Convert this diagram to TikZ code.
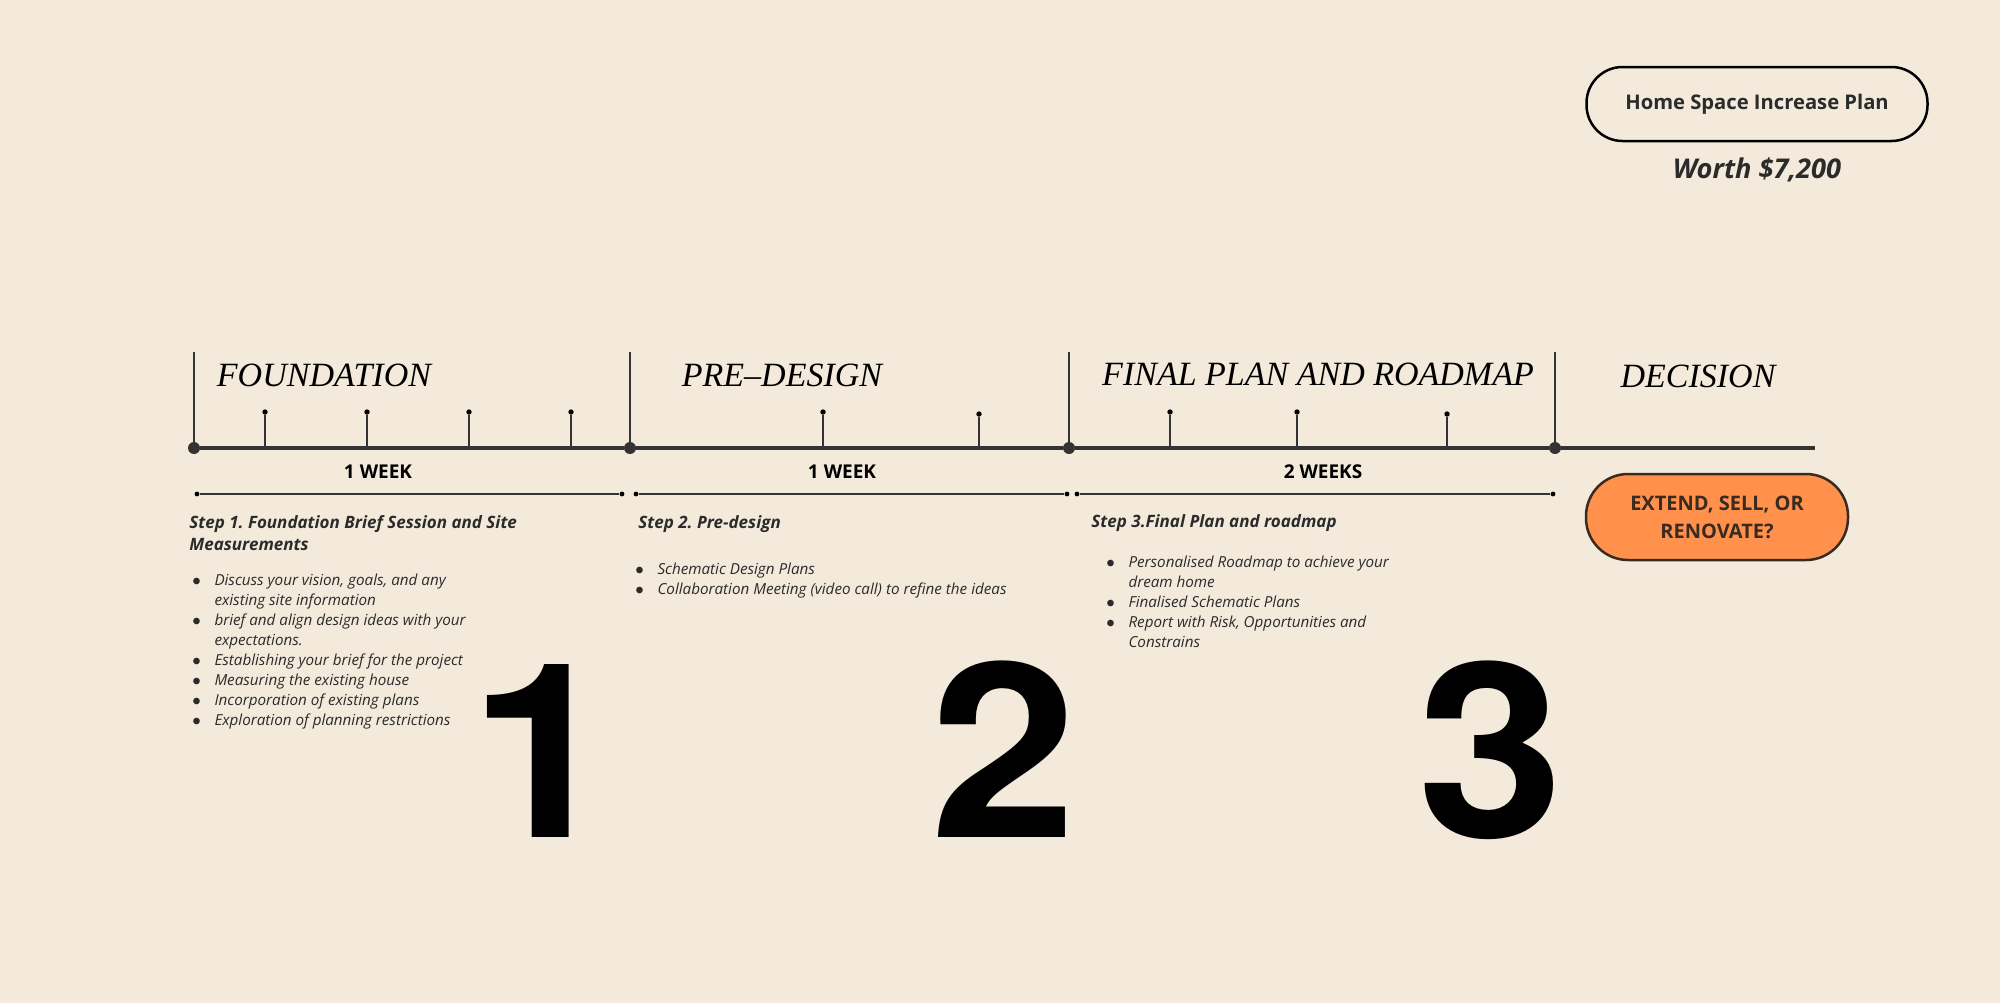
\documentclass[tikz,border=0pt]{standalone}
\usepackage{fontspec}
\usepackage{graphicx}
\setmainfont{Open Sans}
\newfontfamily\headfont{Liberation Serif}
\newfontfamily\numfont{TeX Gyre Heros}
\usetikzlibrary{positioning}
\definecolor{paper}{HTML}{F3EADC}
\definecolor{ink}{HTML}{333333}
\definecolor{textdark}{HTML}{2B2B2B}
\definecolor{pumpkin}{HTML}{FF914D}
\definecolor{pumpkintext}{HTML}{3A2A20}
\frenchspacing

\begin{document}
\begin{tikzpicture}[x=0.5pt,y=-0.5pt]
\tikzstyle{stage}=[circle, fill=ink, inner sep=0pt, minimum size=6pt]
\tikzstyle{tickdot}=[circle, fill=black, inner sep=0pt, minimum size=2.7pt]
\tikzstyle{pin}=[circle, fill=black, inner sep=0pt, minimum size=2.4pt]
\tikzstyle{head}=[inner sep=0pt, font=\headfont\itshape\fontsize{17}{20}\selectfont]
\tikzstyle{span}=[inner sep=0pt, font=\bfseries\fontsize{9.5}{11}\selectfont]
\tikzstyle{steptitle}=[inner sep=0pt, anchor=base west, text=textdark, font=\bfseries\itshape\fontsize{8.5}{11}\selectfont]
\tikzstyle{items}=[inner sep=0pt, anchor=base west, text=textdark, font=\itshape\fontsize{7.6}{10}\selectfont]
\tikzstyle{bignum}=[inner sep=0pt, anchor=base, font=\numfont\bfseries\fontsize{122}{122}\selectfont]
\tikzstyle{pill}=[rectangle, rounded corners=18pt, draw=black, line width=1.25pt, minimum width=170.5pt, minimum height=37pt, text=textdark, font=\bfseries\fontsize{10.1}{12}\selectfont]
\tikzstyle{choice}=[rectangle, rounded corners=21pt, draw=pumpkintext, fill=pumpkin, line width=1.25pt, minimum width=131pt, minimum height=43pt, align=center, text=pumpkintext, font=\bfseries\fontsize{10}{14}\selectfont]

\fill[paper] (0,0) rectangle (2000,1003);
\useasboundingbox (0,0) rectangle (2000,1003);

\node[pill] at (1757,104) (plan) {Home Space Increase Plan};
\node[inner sep=0pt, text=textdark, font=\bfseries\itshape\fontsize{13.6}{16}\selectfont] at (1757,170) (worth) {Worth \$7,200};

\node[stage] at (194,448) (found) {};
\node[stage] at (630,448) (predes) {};
\node[stage] at (1069,448) (final) {};
\node[stage] at (1555,448) (decide) {};
\coordinate (lineend) at (1815,448);
\draw[ink, line width=2pt] (found) -- (predes) -- (final) -- (decide) -- (lineend);

\coordinate (foundtop) at (194,352);
\coordinate (predestop) at (630,352);
\coordinate (finaltop) at (1069,352);
\coordinate (decidetop) at (1555,352);
\draw[ink, line width=0.75pt] (foundtop) -- (found.center);
\draw[ink, line width=0.75pt] (predestop) -- (predes.center);
\draw[ink, line width=0.75pt] (finaltop) -- (final.center);
\draw[ink, line width=0.75pt] (decidetop) -- (decide.center);

\node[tickdot] at (265,412) (t1) {};
\node[tickdot] at (367,412) (t2) {};
\node[tickdot] at (469,412) (t3) {};
\node[tickdot] at (571,412) (t4) {};
\node[tickdot] at (823,412) (t5) {};
\node[tickdot] at (979,414) (t6) {};
\node[tickdot] at (1170,412) (t7) {};
\node[tickdot] at (1297,412) (t8) {};
\node[tickdot] at (1447,414) (t9) {};
\draw[ink, line width=0.8pt] (t1) -- (t1 |- found);
\draw[ink, line width=0.8pt] (t2) -- (t2 |- found);
\draw[ink, line width=0.8pt] (t3) -- (t3 |- found);
\draw[ink, line width=0.8pt] (t4) -- (t4 |- found);
\draw[ink, line width=0.8pt] (t5) -- (t5 |- found);
\draw[ink, line width=0.8pt] (t6) -- (t6 |- found);
\draw[ink, line width=0.8pt] (t7) -- (t7 |- found);
\draw[ink, line width=0.8pt] (t8) -- (t8 |- found);
\draw[ink, line width=0.8pt] (t9) -- (t9 |- found);

\node[head] at (324,375) (foundhead) {FOUNDATION};
\node[head] at (782,375) (predeshead) {PRE–DESIGN};
\node[head] at (1318,374) (finalhead) {FINAL PLAN AND ROADMAP};
\node[head] at (1698,376) (decidehead) {DECISION};

\node[span] at (378,472) (week1) {1 WEEK};
\node[span] at (842,472) (week2) {1 WEEK};
\node[span] at (1323,472) (week3) {2 WEEKS};

\node[pin] at (197,494) (b1l) {};
\node[pin] at (622,494) (b1r) {};
\node[pin] at (636,494) (b2l) {};
\node[pin] at (1067,494) (b2r) {};
\node[pin] at (1077,494) (b3l) {};
\node[pin] at (1553,494) (b3r) {};
\draw[ink, line width=0.6pt] (b1l) -- (b1r);
\draw[ink, line width=0.6pt] (b2l) -- (b2r);
\draw[ink, line width=0.6pt] (b3l) -- (b3r);

\node[choice] at (1717,517) (extend) {EXTEND, SELL, OR\\RENOVATE?};

\node[steptitle] at (189,528) (step1) {\begin{tabular}[t]{@{}l@{}}Step 1. Foundation Brief Session and Site\\Measurements\end{tabular}};
\node[items] at (192,585) (list1) {\begin{tabular}[t]{@{}l@{\hspace{6.8pt}}l@{}}
$\bullet$ & Discuss your vision, goals, and any\\
 & existing site information\\
$\bullet$ & brief and align design ideas with your\\
 & expectations.\\
$\bullet$ & Establishing your brief for the project\\
$\bullet$ & Measuring the existing house\\
$\bullet$ & Incorporation of existing plans\\
$\bullet$ & Exploration of planning restrictions
\end{tabular}};

\node[steptitle] at (638,528) (step2) {Step 2. Pre-design};
\node[items] at (635,574) (list2) {\begin{tabular}[t]{@{}l@{\hspace{6.8pt}}l@{}}
$\bullet$ & Schematic Design Plans\\
$\bullet$ & Collaboration Meeting (video call) to refine the ideas
\end{tabular}};

\node[steptitle] at (1091,527) (step3) {Step 3.Final Plan and roadmap};
\node[items] at (1106,567) (list3) {\begin{tabular}[t]{@{}l@{\hspace{6.8pt}}l@{}}
$\bullet$ & Personalised Roadmap to achieve your\\
 & dream home\\
$\bullet$ & Finalised Schematic Plans\\
$\bullet$ & Report with Risk, Opportunities and\\
 & Constrains
\end{tabular}};

\node[bignum] at (543,837) (num1) {\scalebox{1.08}[1]{1}};
\node[bignum] at (1004,837) (num2) {\scalebox{1.08}[1]{2}};
\node[bignum] at (1491,837) (num3) {\scalebox{1.08}[1]{3}};
\end{tikzpicture}
\end{document}
